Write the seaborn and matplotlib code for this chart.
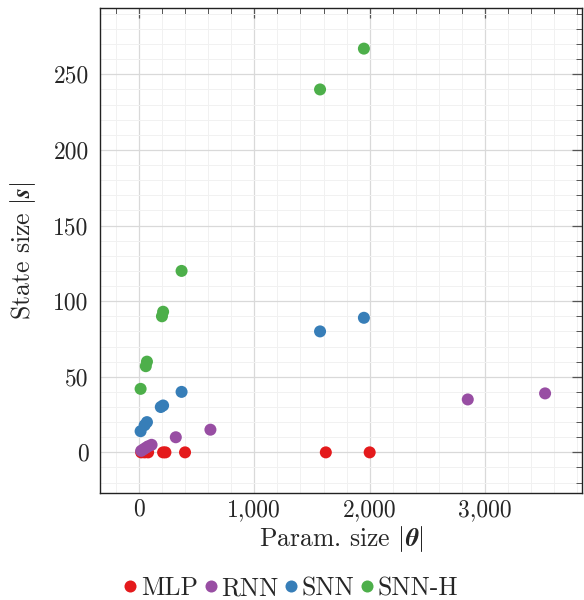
import pandas as pd
import matplotlib
matplotlib.use("Agg")
import matplotlib.pyplot as plt
import seaborn as sns
from matplotlib.ticker import MultipleLocator, FuncFormatter

# model families
models = ["MLP", "RNN", "SNN", "SNN-H"]
colors = ["#e41a1c", "#984ea3", "#377eb8", "#4daf4a"]

# params |theta| and state size |s| per model
mlp_params = [20, 50, 80, 210, 230, 400, 1620, 2000]
mlp_state = [0, 0, 0, 0, 0, 0, 0, 0]
rnn_params = [20, 40, 60, 80, 110, 320, 620, 2850, 3520]
rnn_state = [1, 2, 3, 4, 5, 10, 15, 35, 39]
snn_params = [15, 50, 70, 190, 210, 370, 1570, 1950]
snn_state = [14, 18, 20, 30, 31, 40, 80, 89]
snnh_params = [15, 60, 70, 200, 210, 370, 1570, 1950]
snnh_state = [42, 57, 60, 90, 93, 120, 240, 267]

frames = []
for name, xs, ys in zip(models,
                        [mlp_params, rnn_params, snn_params, snnh_params],
                        [mlp_state, rnn_state, snn_state, snnh_state]):
    frames.append(pd.DataFrame({"params": xs, "state": ys, "model": name}))
df = pd.concat(frames, ignore_index=True)

sns.set_style("white")
plt.rcParams["font.family"] = ["cmr10", "DejaVu Serif"]
plt.rcParams["mathtext.fontset"] = "cm"
plt.rcParams["axes.unicode_minus"] = False
plt.rcParams["axes.formatter.use_mathtext"] = True

fig = plt.figure(figsize=(5.84, 6.0), dpi=100)
ax = fig.add_axes([0.171, 0.178, 0.826, 0.809])

sns.scatterplot(data=df, x="params", y="state", hue="model",
                palette=dict(zip(models, colors)), s=75, linewidth=0,
                ax=ax, zorder=3)

ax.set_xlim(-338, 3842)
ax.set_ylim(-27, 294)
ax.xaxis.set_major_locator(MultipleLocator(1000))
ax.xaxis.set_minor_locator(MultipleLocator(200))
ax.yaxis.set_major_locator(MultipleLocator(50))
ax.yaxis.set_minor_locator(MultipleLocator(10))
ax.xaxis.set_major_formatter(FuncFormatter(lambda v, p: f"{v:,.0f}"))
ax.yaxis.set_major_formatter(FuncFormatter(lambda v, p: f"{v:.0f}"))

ax.grid(which="major", color="#d9d9d9", linewidth=0.9)
ax.grid(which="minor", color="#f1f1f1", linewidth=0.7)
ax.set_axisbelow(True)
ax.tick_params(which="both", direction="in", top=True, right=True,
               color="#555555", labelsize=17)
ax.tick_params(axis="y", pad=8)
ax.tick_params(axis="x", pad=4)
ax.tick_params(which="major", length=7, width=0.9)
ax.tick_params(which="minor", length=4, width=0.7)
for sp in ax.spines.values():
    sp.set_color("#222222")
    sp.set_linewidth(1.0)

ax.set_xlabel(r"Param. size $|\boldsymbol{\theta}|$", fontsize=18.5, labelpad=2)
ax.set_ylabel(r"State size $|\mathbfit{s}|$", fontsize=18.5, labelpad=11)

sns.move_legend(ax, "upper center", bbox_to_anchor=(0.395, -0.14), ncol=4,
                frameon=False, title=None, fontsize=18.5, handletextpad=0.1,
                handlelength=0.6, columnspacing=0.2, markerscale=1.0,
                borderaxespad=0.2)

fig.savefig("out.png", dpi=100)
